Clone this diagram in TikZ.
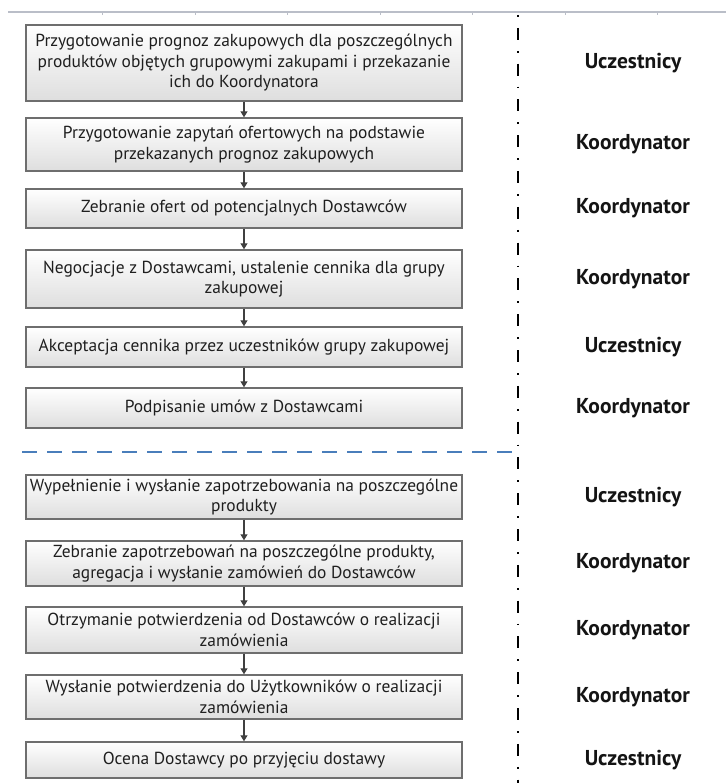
\documentclass[tikz,border=0pt]{standalone}
\usepackage{fontspec}
\setmainfont{PT Sans}
\usetikzlibrary{arrows.meta}
\definecolor{boxline}{RGB}{110,110,110}
\definecolor{boxbottom}{RGB}{222,222,222}
\definecolor{arrowgray}{RGB}{64,64,64}
\definecolor{splitblue}{RGB}{74,126,187}
\definecolor{rulegray}{RGB}{186,190,200}
\definecolor{labeltext}{RGB}{20,20,20}
\begin{document}
\begin{tikzpicture}[x=1pt,y=-1pt,
  stepbox/.style={draw=boxline, line width=1.4pt, top color=white, bottom color=boxbottom,
    minimum width=436pt, inner sep=0pt, align=center, text=black!88,
    font=\fontsize{17.4}{20.5}\selectfont},
  flow/.style={draw=arrowgray, line width=1.1pt, -{Triangle[length=6pt,width=7pt]}},
  role/.style={font=\fontsize{21.5}{24}\selectfont\bfseries, text=labeltext},
  lane/.style={line width=2.8pt, dash pattern=on 1.8pt off 11pt on 12pt off 11pt},
  split/.style={draw=splitblue, line width=2.6pt, dash pattern=on 15pt off 10pt}
]
\useasboundingbox (0,0) rectangle (726,783);

% header rule with small ticks
\coordinate (ruleL) at (8,12);
\coordinate (ruleR) at (726,12);
\draw[rulegray, line width=1.6pt] (ruleL) -- (ruleR);
\foreach \tx in {102,195,287,380,472,565,657}
  \draw[rulegray, line width=0.8pt] (\tx,12) -- (\tx,15);

% process steps
\node[stepbox, minimum height=76pt] (s1) at (244,63)
  {Przygotowanie prognoz zakupowych dla poszczególnych\\produktów objętych grupowymi zakupami i przekazanie\\ich do Koordynatora};
\node[stepbox, minimum height=53pt] (s2) at (244,144.5)
  {Przygotowanie zapytań ofertowych na podstawie\\przekazanych prognoz zakupowych};
\node[stepbox, minimum height=39pt] (s3) at (244,208.5)
  {Zebranie ofert od potencjalnych Dostawców};
\node[stepbox, minimum height=58pt] (s4) at (244,279)
  {Negocjacje z Dostawcami, ustalenie cennika dla grupy\\zakupowej};
\node[stepbox, minimum height=40pt] (s5) at (244,347)
  {Akceptacja cennika przez uczestników grupy zakupowej};
\node[stepbox, minimum height=40pt] (s6) at (244,408)
  {Podpisanie umów z Dostawcami};
\node[stepbox, minimum height=44pt] (s7) at (244,497)
  {Wypełnienie i wysłanie zapotrzebowania na poszczególne\\produkty};
\node[stepbox, minimum height=45pt] (s8) at (244,563.5)
  {Zebranie zapotrzebowań na poszczególne produkty,\\agregacja i wysłanie zamówień do Dostawców};
\node[stepbox, minimum height=46pt] (s9) at (244,630)
  {Otrzymanie potwierdzenia od Dostawców o realizacji\\zamówienia};
\node[stepbox, minimum height=44pt] (s10) at (244,697)
  {Wysłanie potwierdzenia do Użytkowników o realizacji\\zamówienia};
\node[stepbox, minimum height=36pt] (s11) at (244,760)
  {Ocena Dostawcy po przyjęciu dostawy};

% flow arrows
\foreach \a/\b in {s1/s2,s2/s3,s3/s4,s4/s5,s5/s6,s7/s8,s8/s9,s9/s10,s10/s11}
  \draw[flow] (\a.south) -- (\b.north);

% lane divider and phase split
\coordinate (laneTop) at (518,15);
\coordinate (laneBot) at (518,783);
\draw[lane] (laneTop) -- (laneBot);
\coordinate (splitL) at (22,452);
\coordinate (splitR) at (517,452);
\draw[split] (splitL) -- (splitR);

% roles
\node[role] (r1)  at (633,63)    {Uczestnicy};
\node[role] (r2)  at (633,144.5) {Koordynator};
\node[role] (r3)  at (633,208.5) {Koordynator};
\node[role] (r4)  at (633,279)   {Koordynator};
\node[role] (r5)  at (633,347)   {Uczestnicy};
\node[role] (r6)  at (633,408)   {Koordynator};
\node[role] (r7)  at (633,497)   {Uczestnicy};
\node[role] (r8)  at (633,563.5) {Koordynator};
\node[role] (r9)  at (633,630)   {Koordynator};
\node[role] (r10) at (633,697)   {Koordynator};
\node[role] (r11) at (633,760)   {Uczestnicy};
\end{tikzpicture}
\end{document}
